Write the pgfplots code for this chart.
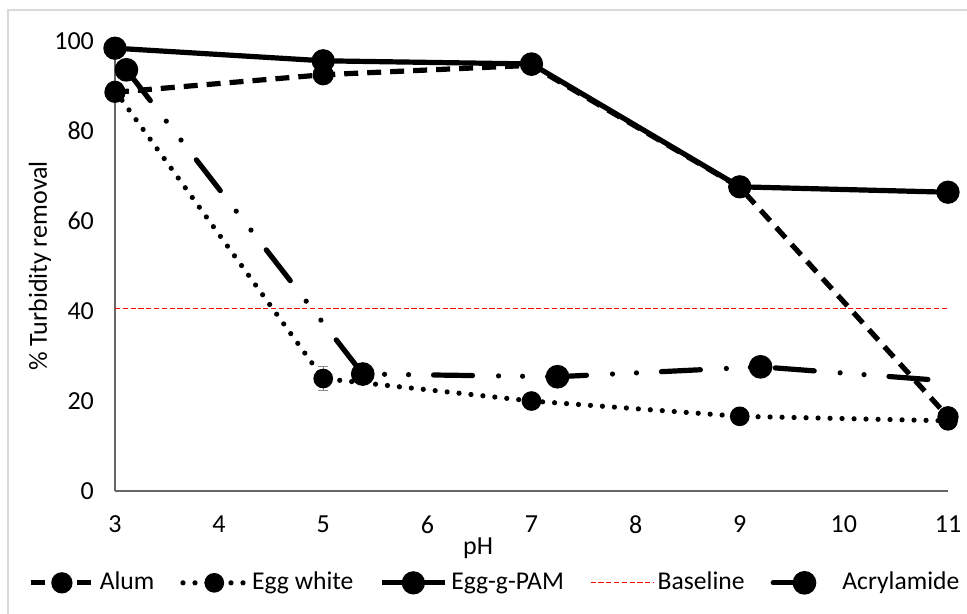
\documentclass[border=0pt]{standalone}
\usepackage{pgfplots}
\pgfplotsset{compat=1.18}
\usepackage{fontspec}
\setmainfont{Carlito}
\begin{document}
\fontsize{13pt}{15pt}\selectfont
\begin{tikzpicture}
\begin{axis}[
  scale only axis, width=416.5pt, height=225pt,
  xmin=3, xmax=11, ymin=0, ymax=100,
  xtick={3,4,...,11}, ytick={0,20,...,100},
  axis x line*=bottom, axis y line*=left,
  axis line style={black!60, line width=0.8pt, -},
  major tick length=0pt,
  /pgf/number format/assume math mode=true,
  tick label style={font=\fontsize{13pt}{15pt}\selectfont, black},
  yticklabel style={xshift=-6pt},
  xticklabel style={yshift=-8pt},
  xlabel={pH}, ylabel={\% Turbidity removal},
  xlabel style={at={(axis description cs:0.436,-0.127)}, anchor=center},
  ylabel style={at={(axis description cs:-0.09,0.5)}, anchor=center},
  clip=false,
  legend columns=5,
  legend style={at={(axis description cs:0.457,-0.204)}, anchor=center, draw=none, fill=none,
    font=\fontsize{12.8pt}{15pt}\selectfont,
    /tikz/every even column/.append style={column sep=11pt}},
  legend image code/.code={\draw[mark repeat=2,mark phase=2,#1] plot coordinates {(0cm,0cm) (0.55cm,0cm) (1.1cm,0cm)};},
]
% error bars
\addplot[only marks, mark=none, forget plot,
  error bars/.cd, y dir=both, y explicit,
  error bar style={black!45, line width=0.6pt, solid},
  error mark options={rotate=90, black!45, mark size=2.5pt, line width=0.6pt, solid}]
  coordinates {(5,95.5) +- (0,2) (5,92.5) +- (0,2) (5,25) +- (0,2.7)};
% Alum
\addplot[black, line width=2.6pt, dash pattern=on 7pt off 4.5pt, mark=*, mark size=4pt, mark options={solid}]
  coordinates {(3,88.6) (5,92.5) (7,94.6) (9,67.5) (11,16.5)};
\addlegendentry{Alum}
% Egg white
\addplot[black, line width=2.6pt, line cap=round, dash pattern=on 0pt off 6pt, mark=*, mark size=3.6pt, mark options={solid}]
  coordinates {(3,89) (5,25) (7,20) (9,16.6) (11,15.6)};
\addlegendentry{Egg white}
% Egg-g-PAM
\addplot[black, line width=2.6pt, mark=*, mark size=4.5pt, mark options={solid}]
  coordinates {(3,98.4) (5,95.6) (7,94.9) (9,67.6) (11,66.4)};
\addlegendentry{Egg-g-PAM}
% Baseline
\addplot[red, line width=0.6pt, dash pattern=on 2.6pt off 1.3pt]
  coordinates {(3,40.5) (11,40.5)};
\addlegendentry{Baseline}
% Acrylamide
\addplot[black, line width=2.6pt, line cap=round,
  dash pattern=on 19.5pt off 13pt on 0pt off 12pt on 0pt off 12.5pt,
  mark=*, mark size=4.6pt, mark options={solid}, mark indices={1,2,3,4},
  legend image post style={mark indices={2}}]
  coordinates {(3.11,93.6) (5.38,26) (7.25,25.4) (9.2,27.6) (10.86,24.7)};
\addlegendentry{Acrylamide}
\coordinate (bl) at (rel axis cs:-0.138,-0.2711);
\coordinate (tr) at (rel axis cs:1.0228,1.0911);
\coordinate (fb) at (rel axis cs:-0.1285,-0.35);
\coordinate (ft) at (rel axis cs:-0.1285,1.0689);
\coordinate (fr) at (rel axis cs:1.10,1.0689);
\end{axis}
\pgfresetboundingbox
\path[use as bounding box] (bl) rectangle (tr);
\draw[black!15, line width=0.8pt] (fb) -- (ft) -- (fr);
\end{tikzpicture}
\end{document}
